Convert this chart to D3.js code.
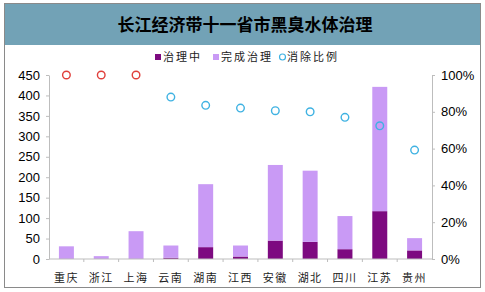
<!DOCTYPE html>
<html>
<head>
<meta charset="utf-8">
<script src="https://cdn.jsdelivr.net/npm/d3@7"></script>
<style>
  body { margin: 0; background: #fff; }
</style>
</head>
<body>
<div id="canvas"></div>
<script>
// data
const provinces = ["重庆", "浙江", "上海", "云南", "湖南", "江西", "安徽", "湖北", "四川", "江苏", "贵州"];
const inProgress = [0, 0, 0, 3, 29, 6, 45, 42, 24, 117, 21];        // 治理中
const completed = [31, 7, 68, 30, 154, 27, 185, 174, 81, 304, 30];   // 完成治理
const ratio = [1.0, 1.0, 1.0, 0.88, 0.835, 0.82, 0.806, 0.80, 0.77, 0.724, 0.592]; // 消除比例
const leftTicks = [0, 50, 100, 150, 200, 250, 300, 350, 400, 450];
const rightTicks = [0, 0.2, 0.4, 0.6, 0.8, 1.0];

const width = 485;
const height = 292;
const marginLeft = 49;
const marginRight = 53;
const marginTop = 75;
const marginBottom = 33;

const svg = d3.select("#canvas")
  .append("svg")
  .attr("width", width)
  .attr("height", height)
  .attr("viewBox", [0, 0, width, height]);

// frame + title band
svg.append("rect")
  .attr("x", 4.5).attr("y", 3.5)
  .attr("width", 476).attr("height", 284)
  .attr("fill", "#fff")
  .attr("stroke", "#8a8a8a");

svg.append("rect")
  .attr("x", 5).attr("y", 4)
  .attr("width", 475).attr("height", 41)
  .attr("fill", "#72a2b6");

svg.append("text")
  .attr("x", 245).attr("y", 31)
  .attr("text-anchor", "middle")
  .attr("font-family", "'Noto Sans CJK SC', sans-serif")
  .attr("font-weight", "bold")
  .attr("font-size", "17px")
  .attr("fill", "#000")
  .text("长江经济带十一省市黑臭水体治理");

// scales
const x = d3.scaleBand()
  .domain(provinces)
  .range([marginLeft, width - marginRight])
  .paddingInner(0.57)
  .paddingOuter(0.285);

const xBand = d3.scaleBand()
  .domain(provinces)
  .range([marginLeft, width - marginRight]);

const y = d3.scaleLinear()
  .domain([0, 450])
  .range([height - marginBottom, marginTop]);

const y2 = d3.scaleLinear()
  .domain([0, 1])
  .range([height - marginBottom, marginTop]);

const axisColor = "#bdbdbd";

// bars (stacked)
const rows = provinces.map((p, i) => ({ name: p, inProgress: inProgress[i], completed: completed[i] }));
const stacked = d3.stack().keys(["inProgress", "completed"])(rows);
const color = d3.scaleOrdinal()
  .domain(["inProgress", "completed"])
  .range(["#7d0a80", "#c99af5"]);

svg.append("g")
  .selectAll("g")
  .data(stacked)
  .join("g")
    .attr("fill", d => color(d.key))
  .selectAll("rect")
  .data(d => d)
  .join("rect")
    .attr("x", d => x(d.data.name))
    .attr("width", x.bandwidth())
    .attr("y", d => y(d[1]))
    .attr("height", d => y(d[0]) - y(d[1]));

// left axis
svg.append("g")
  .attr("transform", `translate(${marginLeft},0)`)
  .call(d3.axisLeft(y).tickValues(leftTicks).tickSize(3).tickSizeOuter(0).tickPadding(6))
  .call(g => g.select(".domain").attr("stroke", axisColor))
  .call(g => g.selectAll(".tick line").attr("stroke", axisColor))
  .call(g => g.selectAll(".tick text")
    .attr("font-family", "Arial, 'Liberation Sans', sans-serif")
    .attr("font-size", "13px")
    .attr("fill", "#000"));

// right axis
svg.append("g")
  .attr("transform", `translate(${width - marginRight},0)`)
  .call(d3.axisRight(y2).tickValues(rightTicks).tickFormat(d3.format(".0%")).tickSize(3).tickSizeOuter(0).tickPadding(6))
  .call(g => g.select(".domain").attr("stroke", axisColor))
  .call(g => g.selectAll(".tick line").attr("stroke", axisColor))
  .call(g => g.selectAll(".tick text")
    .attr("font-family", "Arial, 'Liberation Sans', sans-serif")
    .attr("font-size", "13px")
    .attr("fill", "#000"));

// bottom axis: line with ticks between categories
const bottom = svg.append("g")
  .attr("transform", `translate(0,${height - marginBottom})`);
bottom.append("line")
  .attr("x1", marginLeft).attr("x2", width - marginRight)
  .attr("stroke", axisColor);
bottom.selectAll("line.tk")
  .data(provinces.slice(1))
  .join("line")
    .attr("class", "tk")
    .attr("x1", d => xBand(d)).attr("x2", d => xBand(d))
    .attr("y1", 0).attr("y2", 3)
    .attr("stroke", axisColor);
bottom.selectAll("text")
  .data(provinces)
  .join("text")
    .attr("x", d => xBand(d) + xBand.bandwidth() / 2)
    .attr("y", 23)
    .attr("text-anchor", "middle")
    .attr("font-family", "'Noto Sans CJK SC', sans-serif")
    .attr("font-size", "11px")
    .attr("letter-spacing", "1.5px")
    .attr("fill", "#222")
    .text(d => d);

// ratio circles
svg.append("g")
  .selectAll("circle")
  .data(ratio)
  .join("circle")
    .attr("cx", (d, i) => xBand(provinces[i]) + xBand.bandwidth() / 2)
    .attr("cy", d => y2(d))
    .attr("r", 3.8)
    .attr("fill", "none")
    .attr("stroke-width", 1.4)
    .attr("stroke", d => d >= 1 ? "#e0403c" : "#3fb2e2");

// legend
const legendItems = [
  { label: "治理中", type: "rect", color: "#7d0a80", x: 155 },
  { label: "完成治理", type: "rect", color: "#c99af5", x: 213 },
  { label: "消除比例", type: "circle", color: "#3fb2e2", x: 279 }
];
const legend = svg.append("g");
legend.selectAll("rect")
  .data(legendItems.filter(d => d.type === "rect"))
  .join("rect")
    .attr("x", d => d.x).attr("y", 54)
    .attr("width", 6).attr("height", 6)
    .attr("fill", d => d.color);
legend.selectAll("circle")
  .data(legendItems.filter(d => d.type === "circle"))
  .join("circle")
    .attr("cx", d => d.x + 3.5).attr("cy", 57)
    .attr("r", 3)
    .attr("fill", "none")
    .attr("stroke-width", 1.2)
    .attr("stroke", d => d.color);
legend.selectAll("text")
  .data(legendItems)
  .join("text")
    .attr("x", d => d.x + 8)
    .attr("y", 61)
    .attr("font-family", "'Noto Sans CJK SC', sans-serif")
    .attr("font-size", "11px")
    .attr("letter-spacing", "2px")
    .attr("fill", "#222")
    .text(d => d.label);
</script>
</body>
</html>
